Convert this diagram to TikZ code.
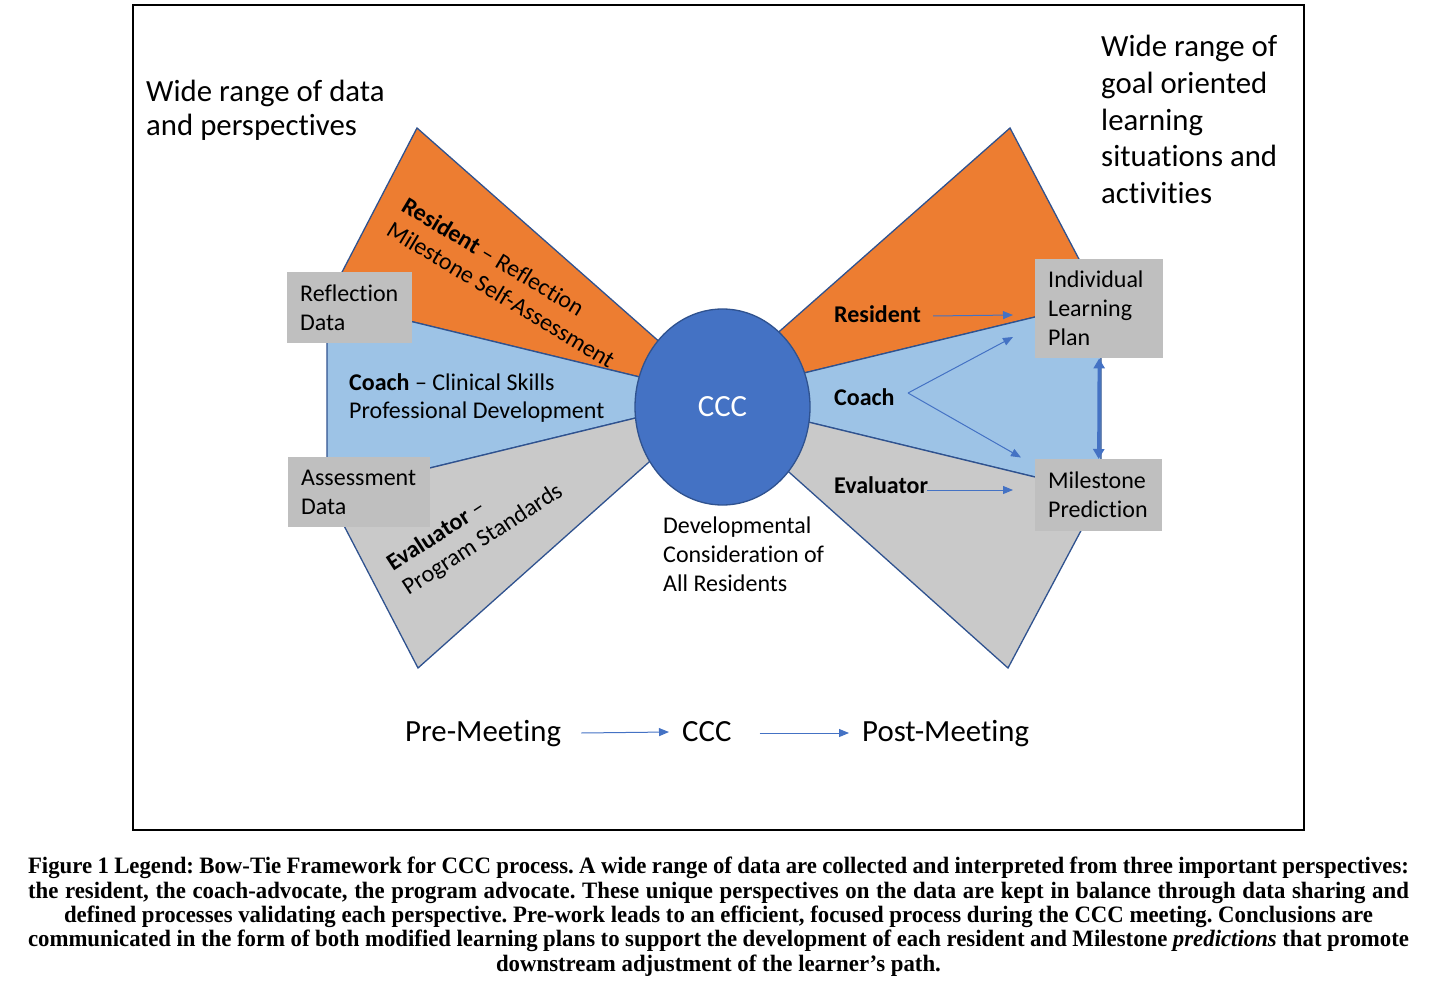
\documentclass[tikz,border=0pt]{standalone}
\usepackage{fontspec}
\setmainfont{Carlito}[Ligatures=NoCommon]
\newfontfamily\capfont{Liberation Serif}[FakeStretch=0.97]
\usetikzlibrary{arrows.meta,shapes.geometric}
\definecolor{orng}{HTML}{ED7D31}
\definecolor{lblue}{HTML}{9DC3E6}
\definecolor{fgray}{HTML}{C9C9C9}
\definecolor{bgray}{HTML}{BFBFBF}
\definecolor{cblue}{HTML}{4472C4}
\definecolor{edgeblue}{HTML}{2F528F}
\newcommand{\fullline}[1]{\makebox[1381pt][s]{#1}}
\frenchspacing
\tikzset{
  fan/.style={draw=edgeblue, line width=1.3pt, line join=miter},
  databox/.style={fill=bgray, anchor=north west, inner xsep=13pt, inner ysep=0pt,
    align=left, font=\fontsize{24}{29}\selectfont},
  lbl/.style={inner sep=0pt, font=\fontsize{24}{28.5}\selectfont, align=left},
  big/.style={inner sep=0pt, font=\fontsize{30.8}{35}\selectfont, align=left},
  thinarrow/.style={draw=cblue, line width=1pt, -{Triangle[length=10pt,width=8pt]}},
}
\begin{document}
\begin{tikzpicture}[x=1pt,y=-1pt]
\useasboundingbox (0,0) rectangle (1429,981);
% frame
\draw[line width=1.6pt] (133,5) rectangle (1304,830);
% left fan
\coordinate (LC) at (722,397);
\filldraw[fan, fill=orng] (417,128) -- (327,301) -- (LC) -- cycle;
\filldraw[fan, fill=lblue] (327,301) -- (327,493) -- (LC) -- cycle;
\filldraw[fan, fill=fgray] (327,493) -- (418,668) -- (LC) -- cycle;
% right fan
\coordinate (RC) at (705,397);
\filldraw[fan, fill=orng] (1010,128) -- (1101,301) -- (RC) -- cycle;
\filldraw[fan, fill=lblue] (1101,301) -- (1101,493) -- (RC) -- cycle;
\filldraw[fan, fill=fgray] (1101,493) -- (1008,668) -- (RC) -- cycle;
% boxes
\node[databox, text width=99pt, minimum height=71pt] (refl) at (287,272) {Reflection\\Data};
\node[databox, text width=116pt, minimum height=70pt] (assess) at (288,457) {Assessment\\Data};
\node[databox, text width=102pt, minimum height=99pt] (ilp) at (1035,259) {Individual\\Learning\\Plan};
\node[databox, text width=101pt, minimum height=72pt] (mp) at (1035,459) {Milestone\\Prediction};
% circle
\node[ellipse, draw=edgeblue, line width=1.3pt, fill=cblue, minimum width=175pt, minimum height=196pt,
  inner sep=0pt, text=white, font=\fontsize{30.8}{35}\selectfont] (ccc) at (722.5,407) {CCC};
% left labels
\node[lbl, anchor=base west, rotate=-31] (res1) at (400,210) {\textbf{Resident} – Reflection};
\node[lbl, anchor=base west, rotate=-31] (res2) at (385,234.5) {Milestone Self-Assessment};
\node[lbl, anchor=base west] (coach1) at (349,390) {\textbf{Coach} – Clinical Skills};
\node[lbl, anchor=base west] (coach2) at (349,418.5) {Professional Development};
\node[lbl, anchor=base west, rotate=33] (eval1) at (393,572) {\textbf{Evaluator} –};
\node[lbl, anchor=base west, rotate=33] (eval2) at (408.5,596) {Program Standards};
% centre text
\node[lbl, anchor=base west] (dev1) at (663,533.3) {Developmental};
\node[lbl, anchor=base west] (dev2) at (663,562) {Consideration of};
\node[lbl, anchor=base west] (dev3) at (663,591) {All Residents};
% right labels
\node[lbl, anchor=base west] (resR) at (834,323) {\textbf{Resident}};
\node[lbl, anchor=base west] (coachR) at (834,405) {\textbf{Coach}};
\node[lbl, anchor=base west] (evalR) at (834,493.5) {\textbf{Evaluator}};
% arrows
\coordinate (ra1) at (933,316);
\coordinate (ra2) at (1013,315);
\coordinate (cv) at (908,393);
\coordinate (ca1) at (1013,337);
\coordinate (ca2) at (1021,457.5);
\coordinate (ea1) at (927,490);
\coordinate (ea2) at (1013,490);
\draw[thinarrow] (ra1) -- (ra2);
\draw[thinarrow] (cv) -- (ca1);
\draw[thinarrow] (cv) -- (ca2);
\draw[thinarrow] (ea1) -- (ea2);
\draw[draw=cblue, line width=3.2pt, {Triangle[length=10pt,width=11pt]}-{Triangle[length=10pt,width=11pt]}]
  (ilp.south) -- (mp.north);
% top texts
\node[big, anchor=base west] (tl1) at (146,101.5) {Wide range of data};
\node[big, anchor=base west] (tl2) at (146,135.5) {and perspectives};
\node[big, anchor=base west] (tr1) at (1101,56.7) {Wide range of};
\node[big, anchor=base west] (tr2) at (1101,93.4) {goal oriented};
\node[big, anchor=base west] (tr3) at (1101,130.1) {learning};
\node[big, anchor=base west] (tr4) at (1101,166.8) {situations and};
\node[big, anchor=base west] (tr5) at (1101,203.5) {activities};
% bottom flow
\node[big, anchor=base west] (pre) at (405,741) {Pre-Meeting};
\node[big, anchor=base west] (cccb) at (682,741) {CCC};
\node[big, anchor=base west] (post) at (862,741) {Post-Meeting};
\draw[thinarrow] ([xshift=20pt,yshift=8pt]pre.base east) -- ([xshift=-13pt,yshift=9pt]cccb.base west);
\draw[thinarrow] ([xshift=28pt,yshift=8pt]cccb.base east) -- ([xshift=-13pt,yshift=8pt]post.base west);
% caption
\node[anchor=base, inner sep=0pt, align=center, font=\capfont\bfseries\fontsize{23.5}{24.3}\selectfont] (cap) at (718.5,971)
{\fullline{Figure 1 Legend: Bow-Tie Framework for CCC process. A wide range of data are collected and interpreted from three important perspectives:}\\
\fullline{the resident, the coach-advocate, the program advocate. These unique perspectives on the data are kept in balance through data sharing and}\\
defined processes validating each perspective. Pre-work leads to an efficient, focused process during the CCC meeting. Conclusions are\\
\fullline{communicated in the form of both modified learning plans to support the development of each resident and Milestone \textit{predictions} that promote}\\
downstream adjustment of the learner’s path.};
\end{tikzpicture}
\end{document}
